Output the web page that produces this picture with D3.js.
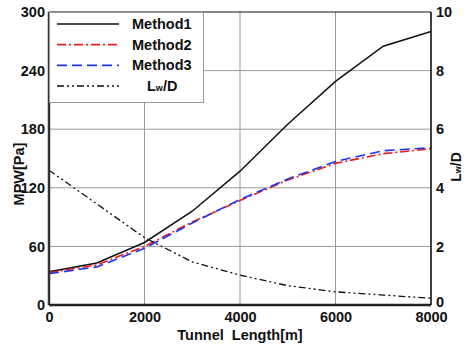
<!DOCTYPE html>
<html>
<head>
<meta charset="utf-8">
<script src="https://cdn.jsdelivr.net/npm/d3@7"></script>
<style>
  body { margin: 0; background: #fff; }
  text { font-family: "Liberation Sans", Arial, sans-serif; font-weight: bold; }
</style>
</head>
<body>
<div class="chart"></div>
<script>
// tunnel length [m]
var lengths = [0, 1000, 2000, 3000, 4000, 5000, 6000, 7000, 8000];
// MPW [Pa]
var method1 = [34, 43, 64, 96, 137, 185, 229, 265, 280];
var method2 = [33, 41, 60, 85, 107, 128, 145, 155, 160];
var method3 = [32, 39, 58, 84, 108, 129, 147, 158, 161];
// Lw/D (right axis)
var lwd = [4.6, 3.45, 2.3, 1.47, 1.02, 0.66, 0.45, 0.34, 0.23];

var xTicks = [0, 2000, 4000, 6000, 8000];
var yTicks = [0, 60, 120, 180, 240, 300];
var y2Ticks = [0, 2, 4, 6, 8, 10];

var W = 464, H = 347;
var margin = {top: 12, right: 33, bottom: 42, left: 49};
var width = W - margin.left - margin.right;
var height = H - margin.top - margin.bottom;

var svg = d3.select(".chart").append("svg")
    .attr("width", W)
    .attr("height", H);

var g = svg.append("g")
    .attr("transform", "translate(" + margin.left + "," + margin.top + ")");

var x = d3.scaleLinear().domain([0, 8000]).range([0, width]);
var y = d3.scaleLinear().domain([0, 300]).range([height, 0]);
var y2 = d3.scaleLinear().domain([0, 10]).range([height, 0]);

// grid
g.selectAll(".vgrid").data(xTicks.slice(1, -1)).enter().append("line")
    .attr("x1", function(d) { return x(d); })
    .attr("x2", function(d) { return x(d); })
    .attr("y1", 0).attr("y2", height)
    .style("stroke", "#9a9a9a").style("stroke-width", 1);
g.selectAll(".hgrid").data(yTicks.slice(1, -1)).enter().append("line")
    .attr("y1", function(d) { return y(d); })
    .attr("y2", function(d) { return y(d); })
    .attr("x1", 0).attr("x2", width)
    .style("stroke", "#9a9a9a").style("stroke-width", 1);

var line = d3.line()
    .x(function(d) { return x(d[0]); })
    .y(function(d) { return y(d[1]); });
var line2 = d3.line()
    .x(function(d) { return x(d[0]); })
    .y(function(d) { return y2(d[1]); });

function zip(a) { return lengths.map(function(l, i) { return [l, a[i]]; }); }

var series = [
  {name: "Method1", data: method1, color: "#111", dash: null, w: 1.5, gen: line},
  {name: "Method2", data: method2, color: "#ee1c1c", dash: "9,3,2,3", w: 1.6, gen: line},
  {name: "Method3", data: method3, color: "#2233ee", dash: "10,5", w: 1.6, gen: line},
  {name: "Lw/D", data: lwd, color: "#111", dash: "7,3,2,3,2,3", w: 1.3, gen: line2}
];

series.forEach(function(s) {
  g.append("path")
    .attr("d", s.gen(zip(s.data)))
    .style("fill", "none")
    .style("stroke", s.color)
    .style("stroke-width", s.w)
    .style("stroke-dasharray", s.dash);
});

// frame
g.append("line").attr("x1", 0).attr("x2", width).attr("y1", 0).attr("y2", 0)
  .style("stroke", "#111").style("stroke-width", 1.2);
g.append("line").attr("x1", width).attr("x2", width).attr("y1", 0).attr("y2", height)
  .style("stroke", "#111").style("stroke-width", 1.6);
g.append("line").attr("x1", 0).attr("x2", 0).attr("y1", 0).attr("y2", height)
  .style("stroke", "#333").style("stroke-width", 2.5);
g.append("line").attr("x1", 0).attr("x2", width).attr("y1", height).attr("y2", height)
  .style("stroke", "#222").style("stroke-width", 2.5);

// axes
var xAxis = g.append("g")
    .attr("transform", "translate(0," + height + ")")
    .call(d3.axisBottom(x).tickValues(xTicks).tickFormat(d3.format("d")).tickSize(0).tickPadding(7));
var yAxis = g.append("g")
    .call(d3.axisLeft(y).tickValues(yTicks).tickFormat(d3.format("d")).tickSize(0).tickPadding(4));
var y2Axis = g.append("g")
    .attr("transform", "translate(" + width + ",0)")
    .call(d3.axisRight(y2).tickValues(y2Ticks).tickSize(0).tickPadding(5));

[xAxis, yAxis, y2Axis].forEach(function(a) {
  a.select(".domain").remove();
  a.selectAll("text")
    .style("font-size", "14.5px")
    .style("font-family", "Liberation Sans, Arial, sans-serif")
    .style("font-weight", "bold")
    .style("fill", "#111");
});
// right "0" sits just above the bottom corner, as in the original
y2Axis.selectAll(".tick").filter(function(d) { return d == 0; })
    .select("text").attr("dy", "0.1em");

// axis titles
svg.append("text")
    .attr("x", margin.left + width / 2)
    .attr("y", 340)
    .attr("text-anchor", "middle")
    .style("font-size", "14.5px")
    .style("white-space", "pre")
    .style("fill", "#111")
    .text("Tunnel  Length[m]");

svg.append("text")
    .attr("transform", "translate(24,174) rotate(-90)")
    .attr("text-anchor", "middle")
    .style("font-size", "14.5px")
    .style("fill", "#111")
    .text("MPW[Pa]");

var rt = svg.append("text")
    .attr("transform", "translate(461,167) rotate(-90)")
    .attr("text-anchor", "middle")
    .style("font-size", "14px")
    .style("fill", "#111");
rt.append("tspan").text("L");
rt.append("tspan").style("font-size", "9px").text("w");
rt.append("tspan").text("/D");

// legend
var leg = g.append("g");
leg.append("rect")
    .attr("x", 0.5).attr("y", 0.5)
    .attr("width", 154).attr("height", 90)
    .style("fill", "#fff")
    .style("stroke", "#999")
    .style("stroke-width", 1);

series.forEach(function(s, i) {
  var ly = 12 + i * 20.7;
  leg.append("line")
    .attr("x1", 8).attr("x2", 70)
    .attr("y1", ly).attr("y2", ly)
    .style("stroke", s.color)
    .style("stroke-width", s.w + 0.2)
    .style("stroke-dasharray", s.dash);
  var t = leg.append("text")
    .attr("y", ly + 5)
    .style("font-size", "14.5px")
    .style("fill", "#111");
  if (s.name == "Lw/D") {
    t.attr("x", 98);
    t.append("tspan").text("L");
    t.append("tspan").style("font-size", "9px").text("w");
    t.append("tspan").text("/D");
  } else {
    t.attr("x", 83).text(s.name);
  }
});
</script>
</body>
</html>
